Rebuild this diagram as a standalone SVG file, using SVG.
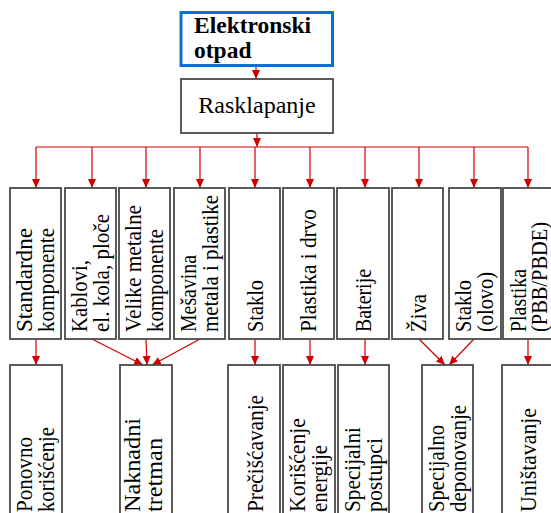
<svg xmlns="http://www.w3.org/2000/svg" width="551" height="513" viewBox="0 0 551 513">
<style>
.box{fill:#fff;stroke:#4a4a4a;stroke-width:1.8}
.t{font-family:"Liberation Serif","Times New Roman",serif;font-size:24px;fill:#000}
.e{font-family:"Liberation Serif","Times New Roman",serif;font-size:23.5px;font-weight:bold;fill:#000}
.c{stroke:#d00000;stroke-width:1.2;fill:none;marker-end:url(#ah)}
.bus{stroke:#d00000;stroke-width:1.2;fill:none}
</style>
<defs>
<marker id="ah" markerWidth="10" markerHeight="10" refX="9" refY="5" orient="auto" markerUnits="userSpaceOnUse">
<path d="M0,1 L9,5 L0,9 z" fill="#d00000"/>
</marker>
</defs>
<rect width="551" height="513" fill="#fff"/>

<g id="connectors">
<line class="c" x1="256" y1="66" x2="256" y2="79"/>
<line class="c" x1="257" y1="133" x2="257" y2="147"/>
<line class="bus" x1="36" y1="147" x2="528" y2="147"/>
<line class="c" x1="36" y1="147" x2="36" y2="188"/>
<line class="c" x1="92" y1="147" x2="92" y2="188"/>
<line class="c" x1="146" y1="147" x2="146" y2="188"/>
<line class="c" x1="200" y1="147" x2="200" y2="188"/>
<line class="c" x1="255" y1="147" x2="255" y2="188"/>
<line class="c" x1="310" y1="147" x2="310" y2="188"/>
<line class="c" x1="365" y1="147" x2="365" y2="188"/>
<line class="c" x1="419" y1="147" x2="419" y2="188"/>
<line class="c" x1="474" y1="147" x2="474" y2="188"/>
<line class="c" x1="528" y1="147" x2="528" y2="188"/>
<line class="c" x1="36" y1="339" x2="36" y2="365"/>
<line class="c" x1="92" y1="339" x2="143" y2="365"/>
<line class="c" x1="146" y1="339" x2="147" y2="365"/>
<line class="c" x1="200" y1="339" x2="152" y2="365"/>
<line class="c" x1="255" y1="339" x2="255" y2="365"/>
<line class="c" x1="310" y1="339" x2="310" y2="365"/>
<line class="c" x1="365" y1="339" x2="365" y2="365"/>
<line class="c" x1="419" y1="339" x2="445" y2="365"/>
<line class="c" x1="474" y1="339" x2="449" y2="365"/>
<line class="c" x1="528" y1="339" x2="528" y2="365"/>
</g>

<g id="n-elektronski">
<rect x="181" y="12.5" width="151.5" height="53" fill="#fff" stroke="#0a6fdc" stroke-width="3"/>
<text x="194" y="33" class="e">Elektronski</text>
<text x="194" y="58" class="e">otpad</text>
</g>

<g id="n-rasklapanje">
<rect class="box" x="181" y="79" width="152" height="54"/>
<text x="257" y="113" class="t" text-anchor="middle">Rasklapanje</text>
</g>

<g id="n1">
<rect class="box" x="10" y="188" width="51" height="151"/>
<text class="t" transform="translate(32,332) rotate(-90)" textLength="104" lengthAdjust="spacingAndGlyphs">Standardne</text>
<text class="t" transform="translate(54,332) rotate(-90)" textLength="104" lengthAdjust="spacingAndGlyphs">komponente</text>
</g>
<g id="n2">
<rect class="box" x="65" y="188" width="51" height="151"/>
<text class="t" transform="translate(87,332) rotate(-90)" textLength="72" lengthAdjust="spacingAndGlyphs">Kablovi,</text>
<text class="t" transform="translate(109,332) rotate(-90)" textLength="118" lengthAdjust="spacingAndGlyphs">el. kola, ploče</text>
</g>
<g id="n3">
<rect class="box" x="119" y="188" width="51" height="151"/>
<text class="t" transform="translate(141,332) rotate(-90)" textLength="127" lengthAdjust="spacingAndGlyphs">Velike metalne</text>
<text class="t" transform="translate(163,332) rotate(-90)" textLength="103" lengthAdjust="spacingAndGlyphs">komponente</text>
</g>
<g id="n4">
<rect class="box" x="174" y="188" width="51" height="151"/>
<text class="t" transform="translate(196,332) rotate(-90)" textLength="77" lengthAdjust="spacingAndGlyphs">Mešavina</text>
<text class="t" transform="translate(218,332) rotate(-90)" textLength="137" lengthAdjust="spacingAndGlyphs">metala i plastike</text>
</g>
<g id="n5">
<rect class="box" x="229" y="188" width="51" height="151"/>
<text class="t" transform="translate(263,332) rotate(-90)" textLength="52" lengthAdjust="spacingAndGlyphs">Staklo</text>
</g>
<g id="n6">
<rect class="box" x="283" y="188" width="51" height="151"/>
<text class="t" transform="translate(316,332) rotate(-90)" textLength="123" lengthAdjust="spacingAndGlyphs">Plastika i drvo</text>
</g>
<g id="n7">
<rect class="box" x="337" y="188" width="52" height="151"/>
<text class="t" transform="translate(371,332) rotate(-90)" textLength="63" lengthAdjust="spacingAndGlyphs">Baterije</text>
</g>
<g id="n8">
<rect class="box" x="392" y="188" width="51" height="151"/>
<text class="t" transform="translate(426,332) rotate(-90)" textLength="38" lengthAdjust="spacingAndGlyphs">Živa</text>
</g>
<g id="n9">
<rect class="box" x="449" y="188" width="52" height="151"/>
<text class="t" transform="translate(471,332) rotate(-90)" textLength="52" lengthAdjust="spacingAndGlyphs">Staklo</text>
<text class="t" transform="translate(493,332) rotate(-90)" textLength="60" lengthAdjust="spacingAndGlyphs">(olovo)</text>
</g>
<g id="n10">
<rect class="box" x="503" y="188" width="52" height="151"/>
<text class="t" transform="translate(526,332) rotate(-90)" textLength="63" lengthAdjust="spacingAndGlyphs">Plastika</text>
<text class="t" transform="translate(547,332) rotate(-90)" textLength="110" lengthAdjust="spacingAndGlyphs">(PBB/PBDE)</text>
</g>

<g id="r1">
<rect class="box" x="10" y="365" width="52" height="160"/>
<text class="t" transform="translate(32,512) rotate(-90)" textLength="75" lengthAdjust="spacingAndGlyphs">Ponovno</text>
<text class="t" transform="translate(54,512) rotate(-90)" textLength="85" lengthAdjust="spacingAndGlyphs">korišćenje</text>
</g>
<g id="r2">
<rect class="box" x="120" y="365" width="52" height="160"/>
<text class="t" transform="translate(140,512) rotate(-90)" textLength="94" lengthAdjust="spacingAndGlyphs">Naknadni</text>
<text class="t" transform="translate(162,512) rotate(-90)" textLength="74" lengthAdjust="spacingAndGlyphs">tretman</text>
</g>
<g id="r3">
<rect class="box" x="228" y="365" width="52" height="160"/>
<text class="t" transform="translate(263,512) rotate(-90)" textLength="117" lengthAdjust="spacingAndGlyphs">Prečišćavanje</text>
</g>
<g id="r4">
<rect class="box" x="283" y="365" width="52" height="160"/>
<text class="t" transform="translate(305,512) rotate(-90)" textLength="94" lengthAdjust="spacingAndGlyphs">Korišćenje</text>
<text class="t" transform="translate(327,512) rotate(-90)" textLength="67" lengthAdjust="spacingAndGlyphs">energije</text>
</g>
<g id="r5">
<rect class="box" x="338" y="365" width="51" height="160"/>
<text class="t" transform="translate(360,512) rotate(-90)" textLength="85" lengthAdjust="spacingAndGlyphs">Specijalni</text>
<text class="t" transform="translate(382,512) rotate(-90)" textLength="74" lengthAdjust="spacingAndGlyphs">postupci</text>
</g>
<g id="r6">
<rect class="box" x="422" y="365" width="51" height="160"/>
<text class="t" transform="translate(444,512) rotate(-90)" textLength="87" lengthAdjust="spacingAndGlyphs">Specijalno</text>
<text class="t" transform="translate(466,512) rotate(-90)" textLength="107" lengthAdjust="spacingAndGlyphs">deponovanje</text>
</g>
<g id="r7">
<rect class="box" x="502" y="365" width="52" height="160"/>
<text class="t" transform="translate(536,512) rotate(-90)" textLength="104" lengthAdjust="spacingAndGlyphs">Uništavanje</text>
</g>
</svg>
